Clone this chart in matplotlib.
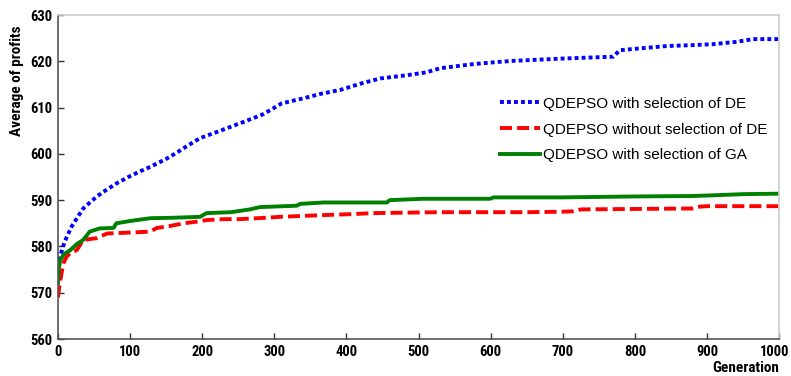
import matplotlib.pyplot as plt
import matplotlib.transforms as mtransforms
from matplotlib import font_manager

# generation index and averaged profits
gen_de = [0, 3, 7, 12, 19, 27, 35, 45, 54, 65, 81, 100, 115, 128, 151, 165, 180, 197, 225,
          259, 285, 310, 340, 365, 391, 420, 447, 484, 510, 530, 555, 576, 613, 631, 659,
          700, 770, 779, 800, 844, 880, 908, 940, 964, 1000]
prof_de = [575.5, 577.8, 580.0, 582.0, 584.3, 586.3, 588.2, 589.6, 590.8, 592.0, 593.6, 595.2,
           596.3, 597.2, 599.0, 600.3, 601.8, 603.4, 605.0, 607.0, 608.6, 610.9, 612.0, 613.0,
           613.8, 615.2, 616.3, 617.0, 617.6, 618.5, 619.0, 619.4, 619.9, 620.1, 620.3,
           620.6, 621.0, 622.4, 622.7, 623.3, 623.5, 623.7, 624.2, 624.8, 624.8]

gen_nosel = [0, 2, 5, 8, 12, 18, 26, 35, 54, 68, 100, 128, 137, 155, 174, 190, 206, 230,
             252, 289, 308, 340, 373, 410, 437, 480, 530, 600, 650, 700, 715, 725, 800,
             880, 890, 900, 1000]
prof_nosel = [569.0, 571.5, 574.3, 576.5, 577.8, 578.7, 579.2, 581.4, 581.8, 582.8, 583.0,
              583.2, 584.0, 584.4, 585.0, 585.3, 585.7, 585.9, 585.9, 586.2, 586.4, 586.6,
              586.8, 587.0, 587.2, 587.3, 587.4, 587.4, 587.4, 587.5, 587.6, 588.0, 588.1,
              588.2, 588.6, 588.7, 588.7]

gen_ga = [0, 1, 3, 8, 17, 26, 35, 44, 58, 77, 81, 100, 128, 160, 197, 206, 240, 266, 280,
          331, 336, 368, 456, 460, 506, 599, 604, 700, 800, 880, 900, 950, 1000]
prof_ga = [572.0, 575.0, 577.0, 578.3, 579.2, 580.5, 581.4, 583.2, 583.9, 584.0, 585.0,
           585.5, 586.1, 586.2, 586.4, 587.2, 587.4, 588.0, 588.5, 588.8, 589.2, 589.5,
           589.5, 590.0, 590.3, 590.3, 590.6, 590.6, 590.8, 590.9, 591.0, 591.3, 591.4]

x_ticks = list(range(0, 1001, 100))
y_ticks = list(range(560, 631, 10))

# narrow bold face if one is around, plain Liberation Sans otherwise
names = {f.name for f in font_manager.fontManager.ttflist}
narrow = 'Liberation Sans'
for cand in ['Liberation Sans Narrow', 'Roboto Condensed', 'Open Sans Condensed']:
    if cand in names:
        narrow = cand
        break
plt.rcParams['font.family'] = ['Liberation Sans', 'DejaVu Sans']

fig = plt.figure(figsize=(7.91, 3.76), dpi=100)
ax = fig.add_axes([0.0733, 0.0984, 0.9117, 0.8616])

ax.plot(gen_de, prof_de, color='#0000ff', linestyle=(0, (1, 0.8)), linewidth=2.8,
        label='QDEPSO with selection of DE')
ax.plot(gen_nosel, prof_nosel, color='#ff0000', linestyle=(0, (3.1, 1.3)), linewidth=2.8,
        label='QDEPSO without selection of DE')
ax.plot(gen_ga, prof_ga, color='#008000', linewidth=2.8,
        label='QDEPSO with selection of GA')

ax.set_xlim(0, 1000)
ax.set_ylim(560, 630)
ax.set_xticks(x_ticks)
ax.set_yticks(y_ticks)
ax.tick_params(direction='in', length=4, width=1, colors='#333333', pad=4)
for lab in ax.get_xticklabels() + ax.get_yticklabels():
    lab.set_fontfamily(narrow)
    lab.set_fontweight('bold')
    lab.set_fontsize(10.5)
    lab.set_color('black')

# keep the last x label inside the canvas
last = ax.get_xticklabels()[-1]
last.set_transform(last.get_transform() +
                   mtransforms.ScaledTranslation(-5 / 100, 0, fig.dpi_scale_trans))

ax.spines['left'].set_color('#555555')
ax.spines['bottom'].set_color('#555555')
ax.spines['top'].set_color('#cccccc')
ax.spines['right'].set_color('#cccccc')
for s in ax.spines.values():
    s.set_linewidth(1.2)

fig.text(0.022, 0.785, 'Average of profits', rotation=90, ha='center', va='center',
         fontsize=11, fontweight='bold', fontfamily=narrow)
fig.text(0.943, 0.022, 'Generation', ha='center', va='center',
         fontsize=11, fontweight='bold', fontfamily=narrow)

leg = fig.legend(handles=ax.get_lines(), loc='upper left', bbox_to_anchor=(0.632, 0.743),
                 frameon=False, handlelength=2.6, handletextpad=0.2, labelspacing=0.78,
                 borderaxespad=0, borderpad=0, prop={'size': 11})

fig.savefig('out.png', dpi=100)
